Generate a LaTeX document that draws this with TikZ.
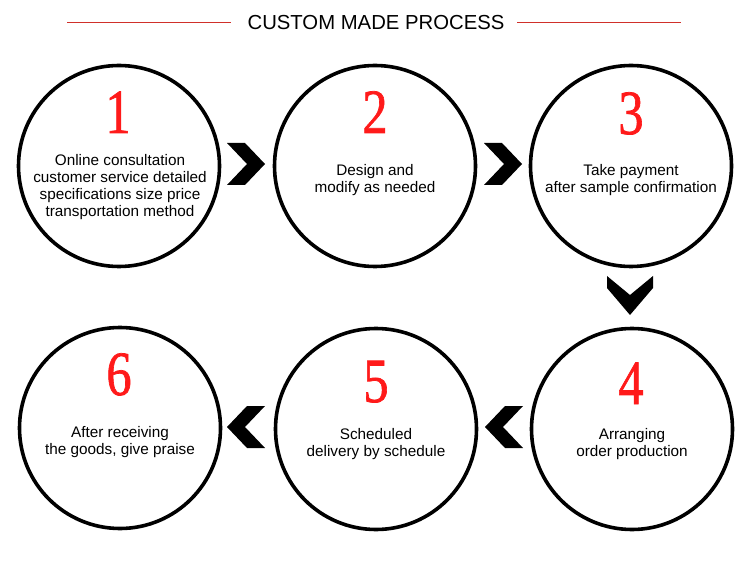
\documentclass[tikz,border=0pt]{standalone}
\usepackage{fontspec}
\setmainfont{Liberation Sans}
\newfontfamily\digitfont[FakeBold=1.2]{Liberation Serif}
\usetikzlibrary{calc}
\definecolor{titlered}{HTML}{D0302A}
\definecolor{digitred}{HTML}{FF1A1A}
\begin{document}
\begin{tikzpicture}[x=1pt,y=-1pt,
  stepcircle/.style={circle,draw=black,line width=3.6pt,minimum size=201pt,inner sep=0pt},
  digit/.style={font=\digitfont\fontsize{63}{63}\selectfont,text=digitred,inner sep=0pt,xscale=0.8,anchor=base},
  txt/.style={font=\fontsize{15.3}{17}\selectfont,inner sep=0pt,anchor=base},
  chev/.style={fill=black,draw=none},
  titleline/.style={draw=titlered,line width=1pt}]
\useasboundingbox (0,0) rectangle (750,572);
\fill[white] (0,0) rectangle (750,572);
% title
\node[font=\fontsize{20.3}{20}\selectfont,inner sep=0pt,anchor=base] (title) at (376,29.5) {CUSTOM MADE PROCESS};
\coordinate (l1) at (67,23); \coordinate (l2) at (231,23);
\coordinate (r1) at (517,23); \coordinate (r2) at (681,23);
\draw[titleline] (l1) -- (l2);
\draw[titleline] (r1) -- (r2);
% circles
\node[stepcircle] (c1) at (119,166) {};
\node[stepcircle] (c2) at (375,166) {};
\node[stepcircle] (c3) at (631,166) {};
\node[stepcircle] (c4) at (632,429) {};
\node[stepcircle] (c5) at (376,429) {};
\node[stepcircle] (c6) at (120,428) {};
% digits
\node[digit] (d1) at (118,133) {1};
\node[digit] (d2) at (375,133) {2};
\node[digit] (d3) at (631,134) {3};
\node[digit] (d4) at (631,404) {4};
\node[digit] (d5) at (376,402) {5};
\node[digit] (d6) at (119,395) {6};
% texts
\node[txt] (t1) at (120,166) {\begin{tabular}[t]{@{}c@{}}Online consultation\\customer service detailed\\specifications size price\\transportation method\end{tabular}};
\node[txt] (t2) at (375,176) {\begin{tabular}[t]{@{}c@{}}Design and\\modify as needed\end{tabular}};
\node[txt] (t3) at (631,176) {\begin{tabular}[t]{@{}c@{}}Take payment\\after sample confirmation\end{tabular}};
\node[txt] (t4) at (632,439) {\begin{tabular}[t]{@{}c@{}}Arranging\\order production\end{tabular}};
\node[txt] (t5) at (376,439) {\begin{tabular}[t]{@{}c@{}}Scheduled\\delivery by schedule\end{tabular}};
\node[txt] (t6) at (120,437) {\begin{tabular}[t]{@{}c@{}}After receiving\\the goods, give praise\end{tabular}};
% chevrons (right)
\coordinate (a12) at (246,164);
\coordinate (a23) at (503,164);
\fill[chev] ($(a12)+(-19,-21)$) -- ++(18,0) -- ($(a12)+(19,0)$) -- ($(a12)+(-1,21)$) -- ($(a12)+(-19,21)$) -- ($(a12)+(1,0)$) -- cycle;
\fill[chev] ($(a23)+(-19,-21)$) -- ++(18,0) -- ($(a23)+(19,0)$) -- ($(a23)+(-1,21)$) -- ($(a23)+(-19,21)$) -- ($(a23)+(1,0)$) -- cycle;
% chevron (down)
\coordinate (a34) at (630,295);
\fill[chev] ($(a34)+(-23,-19)$) -- ($(a34)+(-23,-7)$) -- ($(a34)+(0,20)$) -- ($(a34)+(23,-7)$) -- ($(a34)+(23,-19)$) -- ($(a34)+(0,0)$) -- cycle;
% chevrons (left)
\coordinate (a45) at (504,427);
\coordinate (a56) at (246,427);
\fill[chev] ($(a45)+(19,-21)$) -- ++(-18,0) -- ($(a45)+(-19,0)$) -- ($(a45)+(1,21)$) -- ($(a45)+(19,21)$) -- ($(a45)+(-1,0)$) -- cycle;
\fill[chev] ($(a56)+(19,-21)$) -- ++(-18,0) -- ($(a56)+(-19,0)$) -- ($(a56)+(1,21)$) -- ($(a56)+(19,21)$) -- ($(a56)+(-1,0)$) -- cycle;
\end{tikzpicture}
\end{document}
